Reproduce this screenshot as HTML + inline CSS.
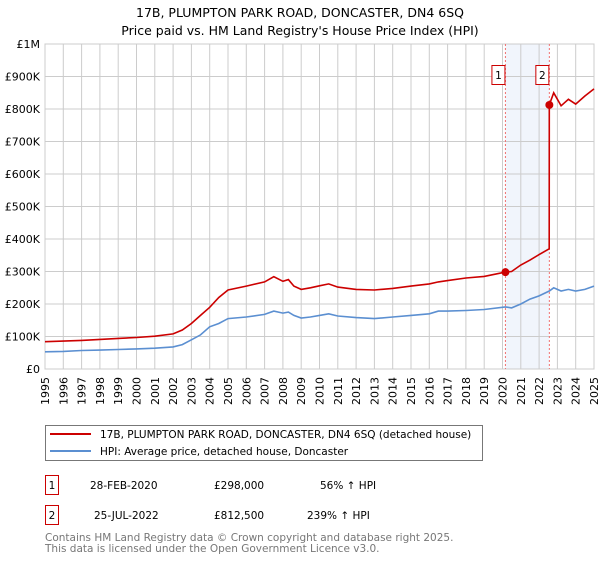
<!DOCTYPE html>
<html><head><meta charset="utf-8"><style>
body{margin:0;background:#fff;font-family:"Liberation Sans","DejaVu Sans",sans-serif;}
svg text{font-family:"DejaVu Sans","Liberation Sans",sans-serif;}
</style></head><body>
<svg id="chart" width="600" height="560" viewBox="0 0 600 560" xmlns="http://www.w3.org/2000/svg">
<text x="300" y="17" text-anchor="middle" font-size="12.5">17B, PLUMPTON PARK ROAD, DONCASTER, DN4 6SQ</text>
<text x="300" y="35" text-anchor="middle" font-size="12.5">Price paid vs. HM Land Registry's House Price Index (HPI)</text>
<g id="grid"></g><g id="marks"></g><g id="axes"></g>
<g>
<rect x="45.5" y="425.5" width="437" height="35" fill="#fff" stroke="#777"/>
<line x1="50" y1="434" x2="91" y2="434" stroke="#cc0000" stroke-width="2"/>
<text x="100" y="438" font-size="10.5">17B, PLUMPTON PARK ROAD, DONCASTER, DN4 6SQ (detached house)</text>
<line x1="50" y1="451" x2="91" y2="451" stroke="#5b8fd1" stroke-width="2"/>
<text x="100" y="455" font-size="10.5">HPI: Average price, detached house, Doncaster</text>
</g>
<g font-size="10.5">
<rect x="45.5" y="475.5" width="13" height="19" fill="#fff" stroke="#cc0000"/>
<text x="52" y="489" text-anchor="middle">1</text>
<text x="90" y="489">28-FEB-2020</text><text x="214" y="489">£298,000</text><text x="320" y="489">56% ↑ HPI</text>
<rect x="45.5" y="505.5" width="13" height="19" fill="#fff" stroke="#cc0000"/>
<text x="52" y="519" text-anchor="middle">2</text>
<text x="94" y="519">25-JUL-2022</text><text x="214" y="519">£812,500</text><text x="307" y="519">239% ↑ HPI</text>
</g>
<text x="45" y="541" font-size="10.5" fill="#777">Contains HM Land Registry data © Crown copyright and database right 2025.</text>
<text x="45" y="552" font-size="10.5" fill="#777">This data is licensed under the Open Government Licence v3.0.</text>
</svg>
<script>
const yTicks=[0,100,200,300,400,500,600,700,800,900,1000];
const yTickLabels=["£0","£100K","£200K","£300K","£400K","£500K","£600K","£700K","£800K","£900K","£1M"];
const xYears=[1995,1996,1997,1998,1999,2000,2001,2002,2003,2004,2005,2006,2007,2008,2009,2010,2011,2012,2013,2014,2015,2016,2017,2018,2019,2020,2021,2022,2023,2024,2025];
const hpiT=[1995,1996,1997,1998,1999,2000,2001,2002,2002.5,2003,2003.5,2004,2004.5,2005,2006,2007,2007.5,2008,2008.3,2008.6,2009,2009.5,2010,2010.5,2011,2012,2013,2014,2015,2016,2016.5,2017,2018,2019,2020.16,2020.5,2021,2021.5,2022,2022.56,2022.8,2023.2,2023.6,2024,2024.5,2025];
const hpiV=[53,54,57,58,60,62,64,68,75,90,105,130,140,155,160,168,178,172,175,165,157,160,165,170,163,158,155,160,165,170,178,178,180,183,191,188,200,215,225,240,250,240,245,240,245,255];
const propT=[1995,1996,1997,1998,1999,2000,2001,2002,2002.5,2003,2003.5,2004,2004.5,2005,2006,2007,2007.5,2008,2008.3,2008.6,2009,2009.5,2010,2010.5,2011,2012,2013,2014,2015,2016,2016.5,2017,2018,2019,2020.16,2020.5,2021,2021.5,2022,2022.55,2022.56,2022.8,2023.2,2023.6,2024,2024.5,2025];
const propV=[84,86,88,91,94,97,101,108,120,140,165,190,220,243,255,268,284,270,275,255,245,250,256,262,252,245,243,248,255,262,268,272,280,285,298,300,320,335,352,370,812.5,850,810,830,815,840,862];
const saleT=[2020.16,2022.56];
const saleV=[298,812.5];
const saleLabels=["1","2"];
const NS="http://www.w3.org/2000/svg";
const X0=45,X1=594,Y0=369,Y1=44;
function xs(t){return X0+(t-1995)/30*(X1-X0);}
function ys(v){return Y0-v/1000*(Y0-Y1);}
function mk(tag,at,parent){const e=document.createElementNS(NS,tag);for(const k in at)e.setAttribute(k,at[k]);parent.appendChild(e);return e;}
const grid=document.getElementById('grid'),marks=document.getElementById('marks'),axes=document.getElementById('axes');
let band=mk('rect',{x:xs(saleT[0]),y:Y1,width:xs(saleT[1])-xs(saleT[0]),height:Y0-Y1,fill:'#eef2fb',opacity:0.8},grid);


xYears.forEach(y=>{let l=mk('line',{x1:xs(y),x2:xs(y),y1:Y1,y2:Y0,stroke:'#ccc','stroke-width':1},grid);


let t=mk('text',{transform:`translate(${xs(y)+4},${Y0+36}) rotate(-90)`,'font-size':11},axes);t.textContent=y;

});
yTicks.forEach((v,i)=>{let l=mk('line',{x1:X0,x2:X1,y1:ys(v),y2:ys(v),stroke:'#ccc','stroke-width':1},grid);


let t=mk('text',{x:40,y:ys(v)+4,'text-anchor':'end','font-size':11},axes);t.textContent=yTickLabels[i];

});
mk('rect',{x:X0,y:Y1,width:X1-X0,height:Y0-Y1,fill:'none',stroke:'#ccc'},grid);
saleT.forEach((t,i)=>{let l=mk('line',{x1:xs(t),x2:xs(t),y1:Y1,y2:Y0,stroke:'#f07070','stroke-dasharray':'2,2'},marks);

});
function path(T,V,col,name){let d=T.map((t,i)=>(i?'L':'M')+xs(t).toFixed(1)+','+ys(V[i]).toFixed(1)).join('');
let p=mk('path',{d:d,fill:'none',stroke:col,'stroke-width':1.6},marks);

}
path(hpiT,hpiV,'#5b8fd1','hpi-line');
path(propT,propV,'#cc0000','property-price-line');
saleT.forEach((t,i)=>{let c=mk('circle',{cx:xs(t),cy:ys(saleV[i]),r:4,fill:'#cc0000'},marks);


let r=mk('rect',{x:xs(t)-13.5,y:65.5,width:13,height:19,fill:'#fff',stroke:'#cc0000'},marks);


let tx=mk('text',{x:xs(t)-7,y:79,'text-anchor':'middle','font-size':10.5},marks);tx.textContent=saleLabels[i];

});
</script>
</body></html>
